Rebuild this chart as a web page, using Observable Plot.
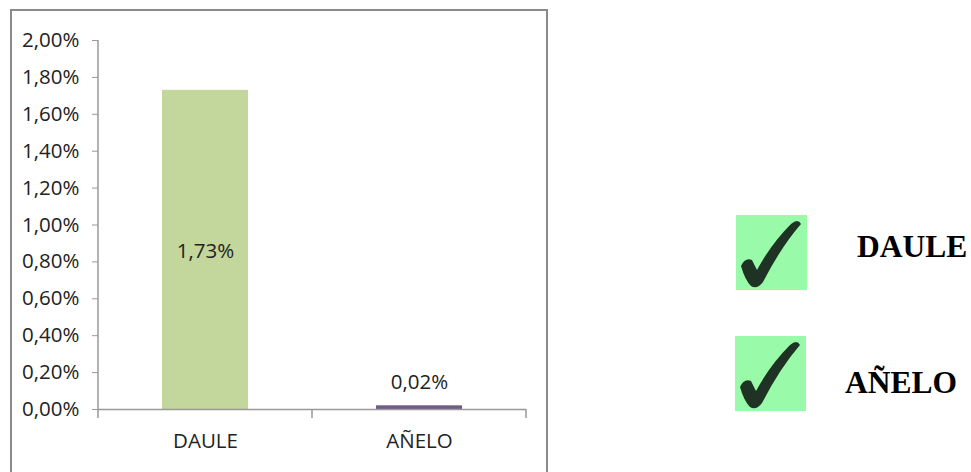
<!DOCTYPE html>
<html>
<head>
<meta charset="utf-8">
<script src="https://cdn.jsdelivr.net/npm/d3@7"></script>
<script src="https://cdn.jsdelivr.net/npm/@observablehq/plot@0.6"></script>
<style>
  html, body { margin: 0; padding: 0; background: #fff; width: 971px; height: 472px; overflow: hidden; }
  #frame { position: absolute; left: 10px; top: 9px; width: 538px; height: 500px; border: 2px solid #8a8a8a; box-sizing: border-box; }
  #chart { position: absolute; left: 0; top: 0; }
  #legend { position: absolute; left: 700px; top: 180px; }
</style>
</head>
<body>
<div id="frame"></div>
<div id="chart"></div>
<svg id="legend" width="271" height="260"></svg>
<script>
// ---- data ----
const categories = ["DAULE", "AÑELO"];
const values = [0.0173, 0.0002];
const barColors = ["#C3D69B", "#6F5A8C"];
const yTicks = [0, 0.002, 0.004, 0.006, 0.008, 0.010, 0.012, 0.014, 0.016, 0.018, 0.020];
const legendLabels = ["DAULE", "AÑELO"];

const fmt = d => (d * 100).toFixed(2).replace(".", ",") + "%";
const rows = categories.map((c, i) => ({category: c, value: values[i], color: barColors[i]}));
const font = "'Open Sans', sans-serif";
const fs = 20.5;

const plot = Plot.plot({
  width: 560,
  height: 472,
  marginLeft: 98,
  marginRight: 34,
  marginTop: 40,
  marginBottom: 63,
  style: {fontFamily: font, fontSize: fs + "px", color: "#222", background: "transparent"},
  x: {domain: categories, paddingInner: 0.6, paddingOuter: 0.3},
  y: {domain: [0, 0.02]},
  marks: [
    Plot.barY(rows, {x: "category", y: "value", fill: "color"}),
    Plot.axisY({ticks: yTicks, tickFormat: fmt, tickSize: 6, tickPadding: 13, stroke: "#999", fill: "#222", fontSize: fs, label: null}),
    Plot.axisX({tickSize: 0, tickPadding: 24, fill: "#222", fontSize: fs, label: null}),
    Plot.ruleY([0], {stroke: "#999", strokeWidth: 1.5}),
    Plot.text(rows.filter(d => d.value >= 0.002), {x: "category", y: d => d.value / 2, text: d => fmt(d.value), fill: "#222", fontSize: fs, dy: 2}),
    Plot.text(rows.filter(d => d.value < 0.002), {x: "category", y: "value", text: d => fmt(d.value), fill: "#222", fontSize: fs, dy: -23})
  ]
});
document.getElementById("chart").appendChild(plot);

// axis line and category boundary ticks derived from the scales
const xs = plot.scale("x"), ys = plot.scale("y");
const svg = d3.select(plot);
const [y0, y1] = [ys.apply(0), ys.apply(0.02)];
const x0 = xs.range[0];
svg.append("line").attr("x1", x0).attr("x2", x0).attr("y1", y1).attr("y2", y0).attr("stroke", "#999").attr("stroke-width", 1.5);
const bounds = [xs.range[0]].concat(categories.map(c => xs.apply(c) + xs.bandwidth + (xs.step - xs.bandwidth) / 2));
svg.append("g").selectAll("line").data(bounds).join("line")
  .attr("x1", d => d).attr("x2", d => d).attr("y1", y0).attr("y2", y0 + 9)
  .attr("stroke", "#999").attr("stroke-width", 1.5);

// legend with check marks
const lg = d3.select("#legend");
const checkPath = "M5 51 Q9 42 16 45 L21 55 Q35 29 55 9 Q62 3 65 9 Q45 32 27 67 Q21 75 15 71 Q9 65 5 51 Z";
const items = [{label: legendLabels[0], sx: 36, sy: 35, tx: 157, ty: 77}, {label: legendLabels[1], sx: 35, sy: 156, tx: 145, ty: 213}];
items.forEach(it => {
  const g = lg.append("g").attr("transform", `translate(${it.sx},${it.sy})`);
  g.append("rect").attr("width", 71).attr("height", 75).attr("fill", "#99FBA9");
  g.append("path").attr("d", checkPath).attr("fill", "#1E3324");
  lg.append("text").attr("x", it.tx).attr("y", it.ty).text(it.label)
    .attr("font-family", "'Liberation Serif', 'Times New Roman', serif").attr("font-weight", "bold")
    .attr("font-size", 31.5).attr("fill", "#000");
});
</script>
</body>
</html>
